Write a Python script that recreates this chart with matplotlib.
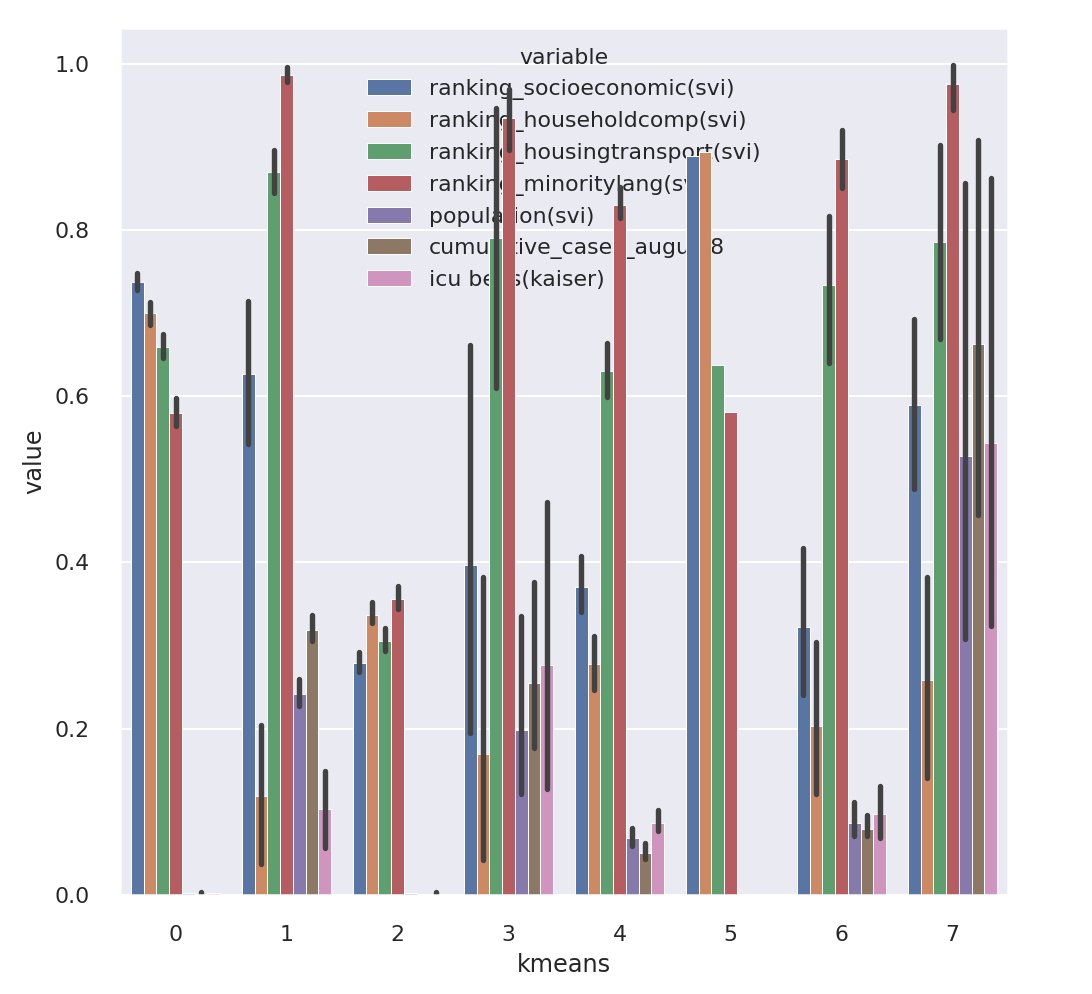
"""Barras por cluster kmeans con intervalos de confianza (estilo seaborn)."""
import matplotlib
matplotlib.use("Agg")
import matplotlib.pyplot as plt
import numpy as np
import seaborn as sns

nan = np.nan

clusters = [0, 1, 2, 3, 4, 5, 6, 7]
variables = [
    "ranking_socioeconomic(svi)",
    "ranking_householdcomp(svi)",
    "ranking_housingtransport(svi)",
    "ranking_minoritylang(svi)",
    "population(svi)",
    "cumulative_cases_august8",
    "icu beds(kaiser)",
]

# medias por cluster y limites del intervalo (nan = sin barra de error)
socio_mean = [0.738, 0.627, 0.279, 0.397, 0.371, 0.889, 0.323, 0.590]
socio_lo   = [0.728, 0.543, 0.268, 0.195, 0.340, nan, 0.240, 0.489]
socio_hi   = [0.748, 0.715, 0.292, 0.662, 0.408, nan, 0.418, 0.693]

house_mean = [0.700, 0.119, 0.337, 0.170, 0.278, 0.894, 0.203, 0.259]
house_lo   = [0.686, 0.037, 0.327, 0.042, 0.247, nan, 0.122, 0.141]
house_hi   = [0.713, 0.205, 0.353, 0.383, 0.312, nan, 0.304, 0.382]

transp_mean = [0.659, 0.870, 0.306, 0.790, 0.630, 0.638, 0.734, 0.786]
transp_lo   = [0.646, 0.845, 0.294, 0.610, 0.599, nan, 0.640, 0.669]
transp_hi   = [0.675, 0.896, 0.321, 0.947, 0.664, nan, 0.817, 0.902]

minor_mean = [0.580, 0.987, 0.356, 0.935, 0.830, 0.581, 0.885, 0.976]
minor_lo   = [0.564, 0.978, 0.344, 0.896, 0.814, nan, 0.850, 0.944]
minor_hi   = [0.598, 0.996, 0.372, 0.970, 0.852, nan, 0.920, 0.999]

pop_mean = [0.002, 0.242, 0.002, 0.199, 0.068, 0.0, 0.087, 0.528]
pop_lo   = [nan, 0.227, nan, 0.121, 0.059, nan, 0.071, 0.308]
pop_hi   = [nan, 0.260, nan, 0.336, 0.080, nan, 0.112, 0.857]

cases_mean = [0.001, 0.319, 0.0, 0.255, 0.051, 0.0, 0.079, 0.663]
cases_lo   = [0.0, 0.306, nan, 0.177, 0.043, nan, 0.071, 0.457]
cases_hi   = [0.004, 0.337, nan, 0.376, 0.063, nan, 0.096, 0.908]

icu_mean = [0.003, 0.103, 0.001, 0.277, 0.087, 0.0, 0.097, 0.544]
icu_lo   = [nan, 0.057, 0.0, 0.127, 0.077, nan, 0.068, 0.324]
icu_hi   = [nan, 0.149, 0.004, 0.473, 0.102, nan, 0.131, 0.862]

means = [socio_mean, house_mean, transp_mean, minor_mean, pop_mean, cases_mean, icu_mean]
lows  = [socio_lo, house_lo, transp_lo, minor_lo, pop_lo, cases_lo, icu_lo]
highs = [socio_hi, house_hi, transp_hi, minor_hi, pop_hi, cases_hi, icu_hi]

sns.set_theme(style="darkgrid")
colors = [sns.desaturate(c, 0.75) for c in sns.color_palette("deep", len(variables))]

fig = plt.figure(figsize=(1092 / 144, 994 / 144), dpi=144)
ax = fig.add_axes([120 / 1092, 99 / 994, 888 / 1092, 867 / 994])

x = np.arange(len(clusters))
n = len(variables)
width = 0.8 / n
offsets = np.linspace(-0.4 + width / 2, 0.4 - width / 2, n)

for i, var in enumerate(variables):
    xpos = x + offsets[i]
    ax.bar(xpos, means[i], width=width, color=colors[i], label=var,
           edgecolor="white", linewidth=0.5)
    for xp, lo, hi in zip(xpos, lows[i], highs[i]):
        if np.isnan(lo):
            continue
        ax.plot([xp, xp], [lo, hi], color=".26", linewidth=2.7,
                solid_capstyle="round", zorder=2)

ax.set_xticks(x)
ax.set_xticklabels([str(c) for c in clusters])
ax.set_xlim(-0.5, len(clusters) - 0.5)
ax.set_ylim(0, 1.043)
ax.xaxis.grid(False)
ax.tick_params(axis="both", pad=9)
ax.set_xlabel("kmeans")
ax.set_ylabel("value")

leg = ax.legend(title="variable", loc="upper center", frameon=False,
                fontsize=11, title_fontsize=11)
leg.set_zorder(0.9)

fig.savefig("out.png", dpi=144)
plt.close(fig)
